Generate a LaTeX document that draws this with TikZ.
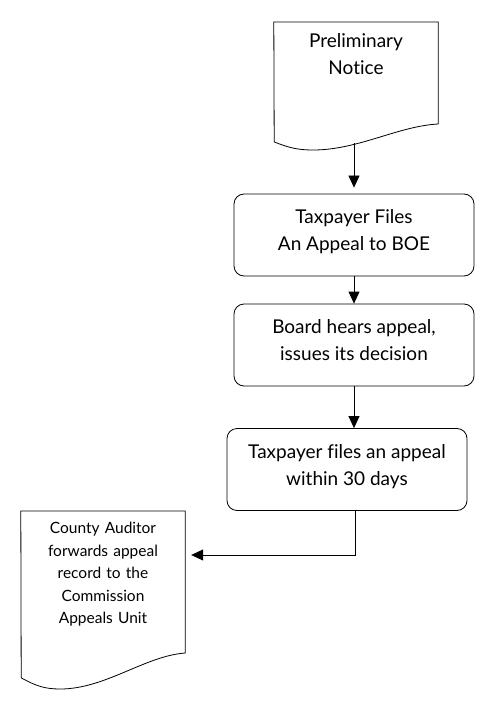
\documentclass[tikz,border=0pt]{standalone}
\usepackage{fontspec}
\setmainfont[Ligatures={NoCommon,NoRare}]{Lato}
\usetikzlibrary{arrows.meta,calc}

% outline of a document shape hung from a node: node, side height, wave depth
\newcommand{\docoutline}[3]{%
  \draw[line width=0.8pt] (#1.north west) -- (#1.north east) -- ++(0,#2)
    .. controls +(-40,{0.08*#3}) and +(45,0) .. ++(-125,#3)
    .. controls +(-15,0) and +(15,{0.23*#3}) .. ++(-39,{-0.31*#3}) -- cycle;}

\begin{document}
\begin{tikzpicture}[
    x=1pt, y=-1pt,
    process/.style={draw, rounded corners=10pt, line width=0.8pt, minimum width=240pt, minimum height=82pt, align=center, text depth=10pt, font=\fontsize{19}{27}\selectfont},
    doc/.style={anchor=north, align=center, text width=150pt, inner xsep=7pt, inner ysep=11pt},
    arrow/.style={-{Triangle[width=11pt,length=12pt]}, line width=0.8pt}
]
\useasboundingbox (0,0) rectangle (500,708);

% Preliminary notice
\node[doc, font=\fontsize{19}{27}\selectfont] (notice) at (356,22) {Preliminary\\Notice};
\docoutline{notice}{102}{26}

% Appeal to the board
\node[process] (taxfiles) at (354,235) {Taxpayer Files\\An Appeal to BOE};

% Board decision
\node[process] (hearing) at (354,345) {Board hears appeal,\\issues its decision};

% Further appeal
\node[process] (appeal) at (347,469.5) {Taxpayer files an appeal\\within 30 days};

% County auditor
\node[doc, font=\fontsize{15.5}{22.5}\selectfont] (auditor) at (103,511) {County Auditor\\forwards appeal\\record to the\\Commission\\Appeals Unit};
\docoutline{auditor}{142}{36}

% Arrows
\coordinate (noticeend) at (354,143);
\coordinate (bend) at (355,555);
\draw[arrow, shorten >=6pt] (noticeend) -- (taxfiles);
\draw[arrow] (taxfiles) -- (hearing);
\draw[arrow] (hearing.south) -- (hearing.south |- appeal.north);
\draw[arrow] (appeal.south -| bend) -- (bend) -- ([xshift=6pt]auditor.east |- bend);

\end{tikzpicture}
\end{document}
